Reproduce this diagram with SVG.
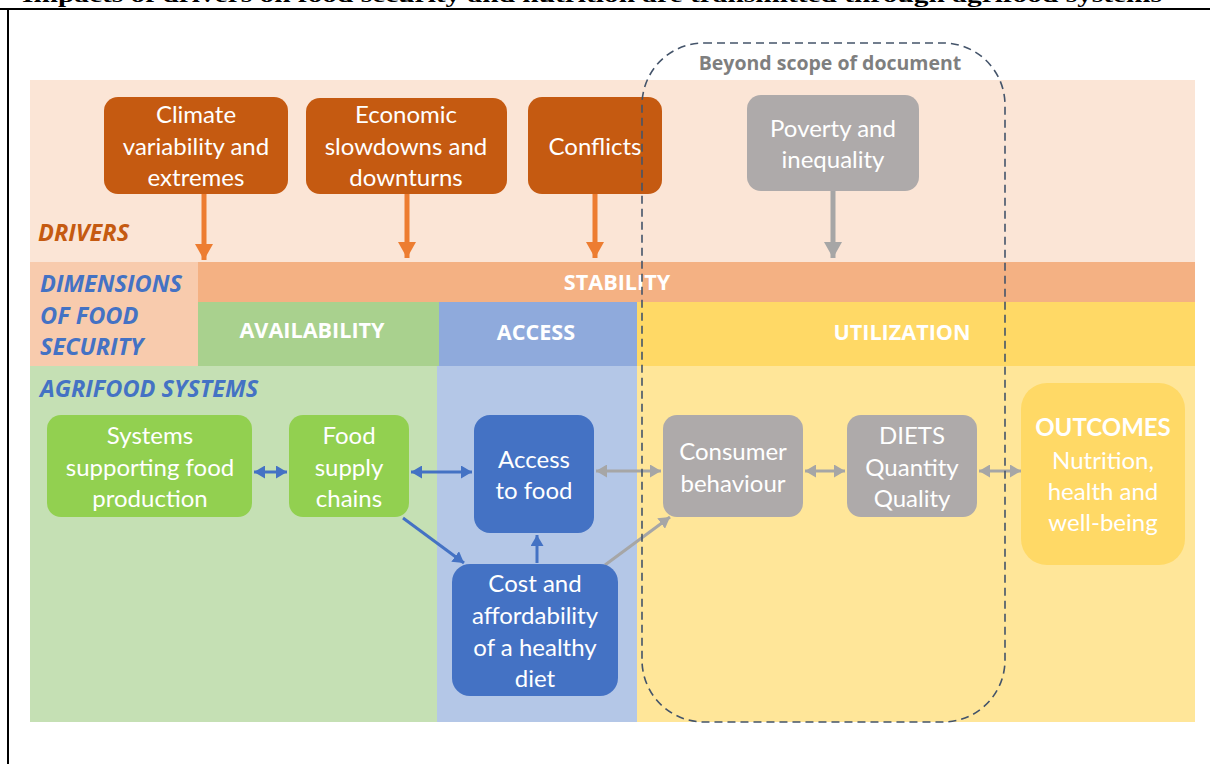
<svg xmlns="http://www.w3.org/2000/svg" width="1210" height="764" viewBox="0 0 1210 764">
<style>
.t{font-family:Lato,"Open Sans","Liberation Sans",sans-serif;fill:#fff;text-anchor:middle;font-size:24px}
.hd{font-family:"Open Sans","Liberation Sans",sans-serif;font-weight:bold;fill:#fff;text-anchor:middle;font-size:21.6px}
.lab{font-family:"Open Sans","Liberation Sans",sans-serif;font-weight:bold;font-style:italic;font-size:23.5px}
.blue{stroke:#4472C4;stroke-width:3;fill:none}
.gray{stroke:#A6A6A6;stroke-width:3;fill:none}
.orange{stroke:#ED7D31;stroke-width:5;fill:none}
</style>
<defs>
<marker id="mb" markerUnits="userSpaceOnUse" markerWidth="13" markerHeight="13" refX="11" refY="6.5" orient="auto-start-reverse"><path d="M0,0 L11,6.5 L0,13 Z" fill="#4472C4"/></marker>
<marker id="mg" markerUnits="userSpaceOnUse" markerWidth="13" markerHeight="13" refX="11" refY="6.5" orient="auto-start-reverse"><path d="M0,0 L11,6.5 L0,13 Z" fill="#A6A6A6"/></marker>
<marker id="mo" markerUnits="userSpaceOnUse" markerWidth="18" markerHeight="18" refX="16" refY="9" orient="auto"><path d="M0,0 L16,9 L0,18 Z" fill="#ED7D31"/></marker>
<marker id="mgo" markerUnits="userSpaceOnUse" markerWidth="18" markerHeight="18" refX="16" refY="9" orient="auto"><path d="M0,0 L16,9 L0,18 Z" fill="#A6A6A6"/></marker>
</defs>
<rect width="1210" height="764" fill="#fff"/>
<text x="22" y="2" font-family="'Liberation Serif',serif" font-weight="bold" font-size="22" textLength="1140" lengthAdjust="spacingAndGlyphs">Impacts of drivers on food security and nutrition are transmitted through agrifood systems</text>
<line x1="0" y1="9" x2="1210" y2="9" stroke="#000" stroke-width="2"/>
<line x1="8" y1="8" x2="8" y2="764" stroke="#000" stroke-width="2"/>

<g id="bands">
<rect x="30" y="80" width="1165" height="182" fill="#FBE5D6"/>
<rect x="198" y="262" width="997" height="40" fill="#F4B183"/>
<rect x="30" y="262" width="168" height="104" fill="#F8CBAD"/>
<rect x="198" y="302" width="241" height="64" fill="#A9D18E"/>
<rect x="439" y="302" width="198" height="64" fill="#8FAADC"/>
<rect x="637" y="302" width="558" height="64" fill="#FFD966"/>
<rect x="30" y="366" width="407" height="356" fill="#C5E0B4"/>
<rect x="437" y="366" width="200" height="356" fill="#B4C7E7"/>
<rect x="637" y="366" width="558" height="356" fill="#FFE699"/>
<text class="lab" x="38" y="241" fill="#C55A11">DRIVERS</text>
<text class="lab" x="40" y="292" fill="#4472C4">DIMENSIONS</text>
<text class="lab" x="40" y="324" fill="#4472C4">OF FOOD</text>
<text class="lab" x="40" y="355" fill="#4472C4">SECURITY</text>
<text class="lab" x="40" y="397" fill="#4472C4">AGRIFOOD SYSTEMS</text>
<text class="hd" x="617" y="290">STABILITY</text>
<text class="hd" x="312" y="338">AVAILABILITY</text>
<text class="hd" x="536" y="340">ACCESS</text>
<text class="hd" x="902" y="340">UTILIZATION</text>
</g>

<g id="connectors">
<line class="orange" x1="204" y1="194" x2="204" y2="260" marker-end="url(#mo)"/>
<line class="orange" x1="407" y1="194" x2="407" y2="258" marker-end="url(#mo)"/>
<line class="orange" x1="595" y1="194" x2="595" y2="258" marker-end="url(#mo)"/>
<line stroke="#A6A6A6" stroke-width="5" x1="833" y1="191" x2="833" y2="258" marker-end="url(#mgo)"/>
<line class="blue" x1="254" y1="472" x2="287" y2="472" marker-start="url(#mb)" marker-end="url(#mb)"/>
<line class="blue" x1="411" y1="472" x2="472" y2="472" marker-start="url(#mb)" marker-end="url(#mb)"/>
<line class="blue" x1="403" y1="518" x2="464" y2="563" marker-end="url(#mb)"/>
<line class="blue" x1="537" y1="563" x2="537" y2="535" marker-end="url(#mb)"/>
<line class="gray" x1="596" y1="471" x2="661" y2="471" marker-start="url(#mg)" marker-end="url(#mg)"/>
<line class="gray" x1="605" y1="565" x2="670" y2="517" marker-end="url(#mg)"/>
<line class="gray" x1="805" y1="471" x2="845" y2="471" marker-start="url(#mg)" marker-end="url(#mg)"/>
<line class="gray" x1="979" y1="471" x2="1021" y2="471" marker-start="url(#mg)" marker-end="url(#mg)"/>
</g>

<g id="climate"><rect x="104" y="97" width="184" height="97" rx="14" fill="#C55A11"/>
<text class="t" x="196" y="123">Climate</text><text class="t" x="196" y="155">variability and</text><text class="t" x="196" y="186">extremes</text></g>
<g id="economic"><rect x="306" y="98" width="201" height="96" rx="14" fill="#C55A11"/>
<text class="t" x="406" y="123">Economic</text><text class="t" x="406" y="155">slowdowns and</text><text class="t" x="406" y="186">downturns</text></g>
<g id="conflicts"><rect x="528" y="97" width="134" height="97" rx="14" fill="#C55A11"/>
<text class="t" x="595" y="155">Conflicts</text></g>
<g id="poverty"><rect x="747" y="95" width="172" height="96" rx="14" fill="#AEAAAA"/>
<text class="t" x="833" y="137">Poverty and</text><text class="t" x="833" y="168">inequality</text></g>

<g id="systems"><rect x="47" y="415" width="205" height="102" rx="14" fill="#92D050"/>
<text class="t" x="150" y="444">Systems</text><text class="t" x="150" y="476">supporting food</text><text class="t" x="150" y="507">production</text></g>
<g id="supply"><rect x="289" y="415" width="120" height="102" rx="14" fill="#92D050"/>
<text class="t" x="349" y="444">Food</text><text class="t" x="349" y="476">supply</text><text class="t" x="349" y="507">chains</text></g>
<g id="access"><rect x="474" y="415" width="120" height="118" rx="16" fill="#4472C4"/>
<text class="t" x="534" y="468">Access</text><text class="t" x="534" y="499">to food</text></g>
<g id="cost"><rect x="452" y="564" width="166" height="132" rx="18" fill="#4472C4"/>
<text class="t" x="535" y="592">Cost and</text><text class="t" x="535" y="624">affordability</text><text class="t" x="535" y="656">of a healthy</text><text class="t" x="535" y="687">diet</text></g>
<g id="consumer"><rect x="663" y="415" width="140" height="102" rx="14" fill="#AEAAAA"/>
<text class="t" x="733" y="460">Consumer</text><text class="t" x="733" y="492">behaviour</text></g>
<g id="diets"><rect x="847" y="415" width="130" height="102" rx="14" fill="#AEAAAA"/>
<text class="t" x="912" y="444">DIETS</text><text class="t" x="912" y="476">Quantity</text><text class="t" x="912" y="507">Quality</text></g>
<g id="outcomes"><rect x="1021" y="383" width="164" height="182" rx="26" fill="#FFD966"/>
<text class="t" x="1103" y="436" font-weight="bold">OUTCOMES</text><text class="t" x="1103" y="469">Nutrition,</text><text class="t" x="1103" y="500">health and</text><text class="t" x="1103" y="531">well-being</text></g>

<g id="scope">
<rect x="642" y="43" width="363" height="679" rx="62" fill="none" stroke="#44546A" stroke-width="1.6" stroke-dasharray="8,5"/>
<text x="830" y="70" font-family="'Open Sans','Liberation Sans',sans-serif" font-weight="bold" font-size="19.5" fill="#7F7F7F" text-anchor="middle">Beyond scope of document</text>
</g>
</svg>
